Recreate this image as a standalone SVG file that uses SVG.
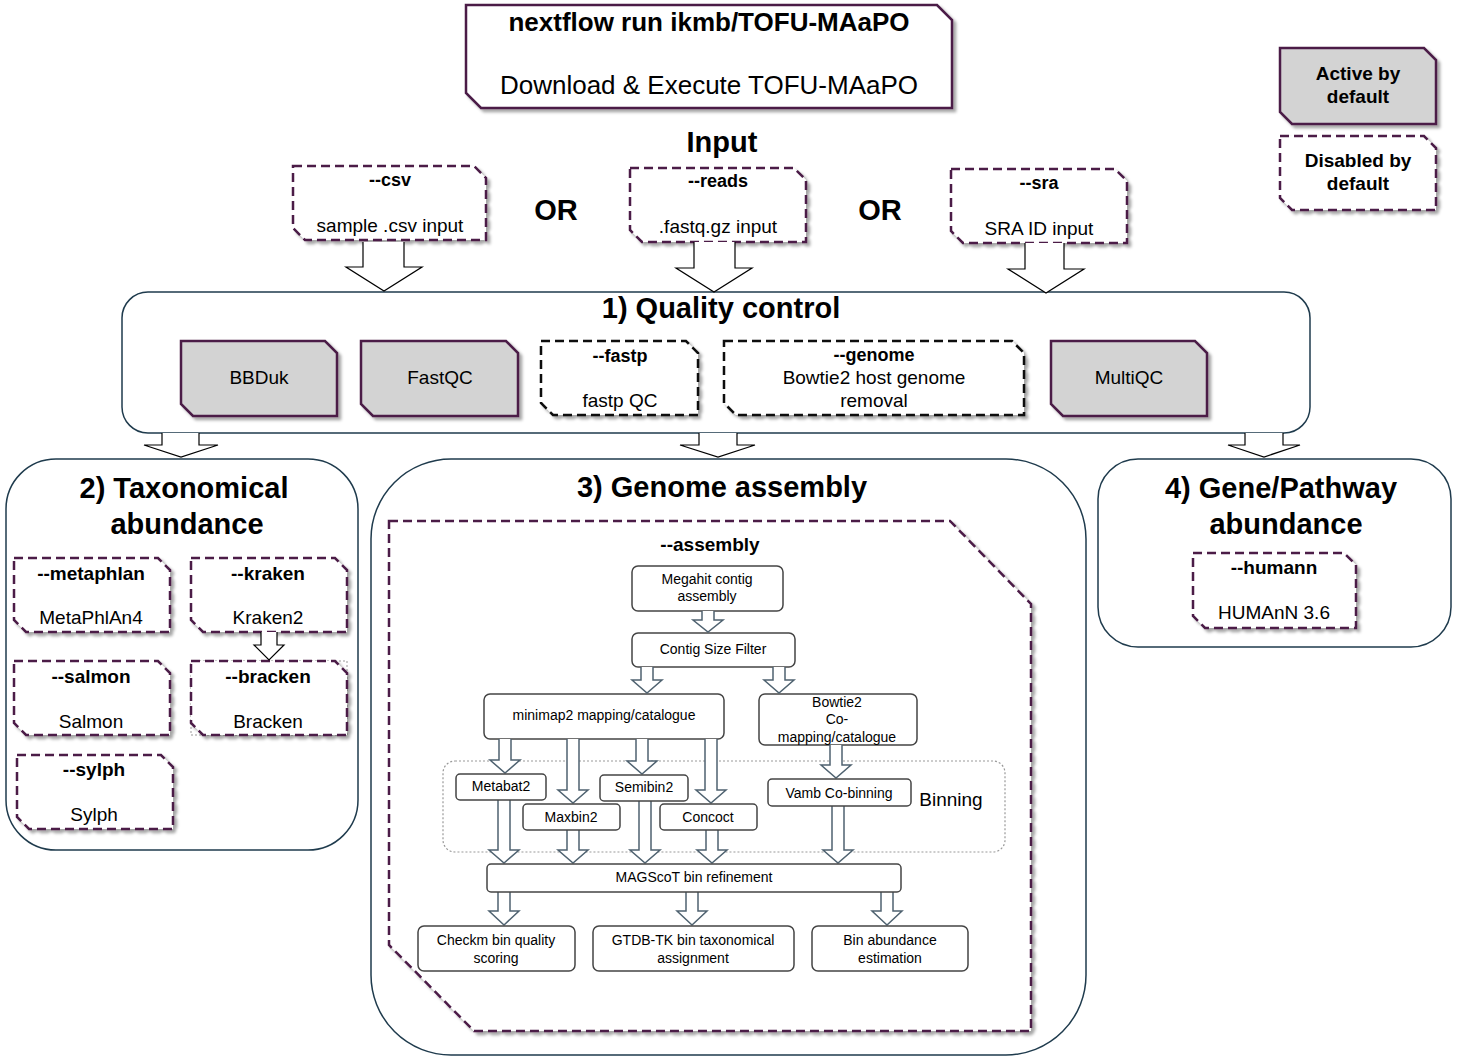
<svg xmlns="http://www.w3.org/2000/svg" width="1457" height="1061" viewBox="0 0 1457 1061">
<defs>
<filter id="sh" x="-10%" y="-10%" width="130%" height="130%">
<feDropShadow dx="3" dy="3" stdDeviation="1.5" flood-color="#000" flood-opacity="0.35"/>
</filter>
</defs>
<style>
text{font-family:"Liberation Sans",Arial,sans-serif;fill:#000;text-anchor:middle}
.b{font-weight:bold}
.act{fill:#d3d3d3;stroke:#4B1B47;stroke-width:2.5}
.dis{fill:#fff;stroke:#4B1B47;stroke-width:2.5;stroke-dasharray:9,5}
.disk{fill:#fff;stroke:#111;stroke-width:2.5;stroke-dasharray:9,5}
.cont{fill:#fff;stroke:#1F3B4D;stroke-width:1.5}
.nd{fill:#fff;stroke:#444;stroke-width:1.5}
.bar{fill:#fff;stroke:#000;stroke-width:1.2}
.sar{fill:#fff;stroke:#4F6270;stroke-width:1.5}
.t19{font-size:19px}
.t14{font-size:14px}
</style>
<rect width="1457" height="1061" fill="#fff"/>

<g id="title">
<path class="act" style="fill:#fff" filter="url(#sh)" d="M466,5 H937 L952,20 V108 H481 L466,93 Z"/>
<text class="b" x="709" y="31" font-size="26">nextflow run ikmb/TOFU-MAaPO</text>
<text x="709" y="94" font-size="26">Download &amp; Execute TOFU-MAaPO</text>
</g>

<g id="legend-active">
<path class="act" filter="url(#sh)" d="M1280,48 H1424 L1436,60 V124 H1292 L1280,112 Z"/>
<text class="b t19" x="1358" y="80">Active by</text>
<text class="b t19" x="1358" y="103">default</text>
</g>
<g id="legend-disabled">
<path class="dis" filter="url(#sh)" d="M1280,136 H1424 L1436,148 V210 H1292 L1280,198 Z"/>
<text class="b t19" x="1358" y="167">Disabled by</text>
<text class="b t19" x="1358" y="190">default</text>
</g>

<g id="input-label">
<text class="b" x="722" y="152" font-size="29">Input</text>
<text class="b" x="556" y="220" font-size="29">OR</text>
<text class="b" x="880" y="220" font-size="29">OR</text>
</g>

<g id="csv">
<path class="dis" filter="url(#sh)" d="M293,166 H474 L486,178 V240 H305 L293,228 Z"/>
<text class="b" x="390" y="186" font-size="18">--csv</text>
<text class="t19" x="390" y="232">sample .csv input</text>
</g>
<g id="reads">
<path class="dis" filter="url(#sh)" d="M630,168 H794 L806,180 V242 H642 L630,230 Z"/>
<text class="b" x="718" y="187" font-size="18">--reads</text>
<text class="t19" x="718" y="233">.fastq.gz input</text>
</g>
<g id="sra">
<path class="dis" filter="url(#sh)" d="M951,169 H1115 L1127,181 V243 H963 L951,231 Z"/>
<text class="b" x="1039" y="189" font-size="18">--sra</text>
<text class="t19" x="1039" y="235">SRA ID input</text>
</g>

<g id="qc">
<rect class="cont" x="122" y="292" width="1188" height="141" rx="26"/>
<text class="b" x="721" y="318" font-size="29">1) Quality control</text>
</g>
<g id="bbduk">
<path class="act" filter="url(#sh)" d="M181,341 H325 L337,353 V416 H193 L181,404 Z"/>
<text class="t19" x="259" y="384">BBDuk</text>
</g>
<g id="fastqc">
<path class="act" filter="url(#sh)" d="M361,341 H506 L518,353 V416 H373 L361,404 Z"/>
<text class="t19" x="440" y="384">FastQC</text>
</g>
<g id="fastp">
<path class="disk" filter="url(#sh)" d="M541,341 H686 L698,353 V415 H553 L541,403 Z"/>
<text class="b" x="620" y="362" font-size="18">--fastp</text>
<text class="t19" x="620" y="407">fastp QC</text>
</g>
<g id="genome">
<path class="disk" filter="url(#sh)" d="M724,341 H1012 L1024,353 V415 H736 L724,403 Z"/>
<text class="b" x="874" y="361" font-size="18">--genome</text>
<text class="t19" x="874" y="384">Bowtie2 host genome</text>
<text class="t19" x="874" y="407">removal</text>
</g>
<g id="multiqc">
<path class="act" filter="url(#sh)" d="M1051,341 H1195 L1207,353 V416 H1063 L1051,404 Z"/>
<text class="t19" x="1129" y="384">MultiQC</text>
</g>

<g id="taxonomy">
<rect class="cont" x="6" y="459" width="352" height="391" rx="50"/>
<text class="b" x="184" y="498" font-size="29">2) Taxonomical</text>
<text class="b" x="187" y="534" font-size="29">abundance</text>
</g>
<g id="metaphlan">
<path class="dis" filter="url(#sh)" d="M14,558 H158 L170,570 V632 H26 L14,620 Z"/>
<text class="b t19" x="91" y="580">--metaphlan</text>
<text class="t19" x="91" y="624">MetaPhlAn4</text>
</g>
<g id="kraken">
<path class="dis" filter="url(#sh)" d="M191,558 H335 L347,570 V632 H203 L191,620 Z"/>
<text class="b t19" x="268" y="580">--kraken</text>
<text class="t19" x="268" y="624">Kraken2</text>
</g>
<g id="salmon">
<path class="dis" filter="url(#sh)" d="M14,661 H158 L170,673 V735 H26 L14,723 Z"/>
<text class="b t19" x="91" y="683">--salmon</text>
<text class="t19" x="91" y="728">Salmon</text>
</g>
<g id="bracken">
<rect x="191" y="661" width="156" height="74" fill="none" stroke="#999" stroke-width="1" stroke-dasharray="2,2"/>
<path class="dis" filter="url(#sh)" d="M191,661 H335 L347,673 V735 H203 L191,723 Z"/>
<text class="b t19" x="268" y="683">--bracken</text>
<text class="t19" x="268" y="728">Bracken</text>
</g>
<g id="sylph">
<path class="dis" filter="url(#sh)" d="M17,755 H161 L173,767 V829 H29 L17,817 Z"/>
<text class="b t19" x="94" y="776">--sylph</text>
<text class="t19" x="94" y="821">Sylph</text>
</g>

<g id="assembly-section">
<rect class="cont" x="371" y="459" width="715" height="596" rx="80"/>
<text class="b" x="722" y="497" font-size="29">3) Genome assembly</text>
<path class="dis" filter="url(#sh)" d="M389,521 H950 L1031,604 V1031 H474 L389,945 Z"/>
<text class="b t19" x="710" y="551">--assembly</text>
</g>
<g id="binning">
<rect x="443" y="761" width="562" height="91" rx="12" fill="none" stroke="#999" stroke-width="1.2" stroke-dasharray="2,2"/>
<text class="t19" x="951" y="806">Binning</text>
</g>
<g id="megahit">
<rect class="nd" x="632" y="566" width="151" height="45" rx="6"/>
<text class="t14" x="707" y="584">Megahit contig</text>
<text class="t14" x="707" y="601">assembly</text>
</g>
<g id="contigfilter">
<rect class="nd" x="632" y="633" width="163" height="34" rx="6"/>
<text class="t14" x="713" y="654">Contig Size Filter</text>
</g>
<g id="minimap2">
<rect class="nd" x="484" y="694" width="240" height="45" rx="6"/>
<text class="t14" x="604" y="720">minimap2 mapping/catalogue</text>
</g>
<g id="bowtie2">
<rect class="nd" x="759" y="694" width="158" height="51" rx="6"/>
<text class="t14" x="837" y="707">Bowtie2</text>
<text class="t14" x="837" y="724">Co-</text>
<text class="t14" x="837" y="742">mapping/catalogue</text>
</g>

<g id="connectors">
<path class="bar" d="M363,242 V267 H346 L384,291 L422,267 H404 V242"/>
<path class="bar" d="M694,242 V268 H676 L714,292 L752,268 H735 V242"/>
<path class="bar" d="M1025,243 V269 H1008 L1046,293 L1084,269 H1064 V243"/>
<path class="bar" d="M162,433 V445 H144 L181,457 L218,445 H199 V433"/>
<path class="bar" d="M699,433 V445 H680 L718,457 L755,445 H737 V433"/>
<path class="bar" d="M1245,433 V445 H1228 L1264,457 L1300,445 H1283 V433"/>
<path class="bar" d="M261,632 V645 H254 L269,660 L284,645 H277 V632"/>
<g class="sar">
<path d="M702,611 V620 H693 L708,632 L723,620 H714 V611"/>
<path d="M641,667 V680 H632 L647,693 L662,680 H653 V667"/>
<path d="M773,667 V680 H764 L779,693 L794,680 H785 V667"/>
<path d="M499,739 V760 H490 L505,773 L520,760 H511 V739"/>
<path d="M567,739 V790 H558 L573,803 L588,790 H579 V739"/>
<path d="M636,739 V761 H627 L642,774 L657,761 H648 V739"/>
<path d="M705,739 V790 H696 L711,803 L726,790 H717 V739"/>
<path d="M830,745 V765 H821 L836,778 L851,765 H842 V745"/>
<path d="M498,800 V850 H489 L504,863 L519,850 H510 V800"/>
<path d="M567,830 V850 H558 L573,863 L588,850 H579 V830"/>
<path d="M639,801 V850 H630 L645,863 L660,850 H651 V801"/>
<path d="M706,830 V850 H697 L712,863 L727,850 H718 V830"/>
<path d="M832,806 V850 H823 L838,863 L853,850 H844 V806"/>
<path d="M498,892 V911 H489 L504,925 L519,911 H510 V892"/>
<path d="M686,892 V911 H677 L692,925 L707,911 H698 V892"/>
<path d="M881,892 V911 H872 L887,925 L902,911 H893 V892"/>
</g>
</g>

<g id="metabat2">
<rect class="nd" x="456" y="774" width="90" height="26" rx="4"/>
<text class="t14" x="501" y="791">Metabat2</text>
</g>
<g id="maxbin2">
<rect class="nd" x="523" y="804" width="97" height="26" rx="4"/>
<text class="t14" x="571" y="822">Maxbin2</text>
</g>
<g id="semibin2">
<rect class="nd" x="600" y="775" width="88" height="26" rx="4"/>
<text class="t14" x="644" y="792">Semibin2</text>
</g>
<g id="concoct">
<rect class="nd" x="660" y="804" width="97" height="26" rx="4"/>
<text class="t14" x="708" y="822">Concoct</text>
</g>
<g id="vamb">
<rect class="nd" x="768" y="779" width="143" height="27" rx="4"/>
<text class="t14" x="839" y="798">Vamb Co-binning</text>
</g>
<g id="magscot">
<rect class="nd" x="487" y="864" width="414" height="28" rx="4"/>
<text class="t14" x="694" y="882">MAGScoT bin refinement</text>
</g>
<g id="checkm">
<rect class="nd" x="418" y="926" width="157" height="45" rx="6"/>
<text class="t14" x="496" y="945">Checkm bin quality</text>
<text class="t14" x="496" y="963">scoring</text>
</g>
<g id="gtdbtk">
<rect class="nd" x="593" y="926" width="201" height="45" rx="6"/>
<text class="t14" x="693" y="945">GTDB-TK bin taxonomical</text>
<text class="t14" x="693" y="963">assignment</text>
</g>
<g id="binabundance">
<rect class="nd" x="812" y="926" width="156" height="45" rx="6"/>
<text class="t14" x="890" y="945">Bin abundance</text>
<text class="t14" x="890" y="963">estimation</text>
</g>

<g id="gene-pathway">
<rect class="cont" x="1098" y="459" width="353" height="188" rx="40"/>
<text class="b" x="1281" y="498" font-size="29">4) Gene/Pathway</text>
<text class="b" x="1286" y="534" font-size="29">abundance</text>
</g>
<g id="humann">
<path class="dis" filter="url(#sh)" d="M1193,553 H1344 L1356,565 V628 H1205 L1193,616 Z"/>
<text class="b t19" x="1274" y="574">--humann</text>
<text class="t19" x="1274" y="619">HUMAnN 3.6</text>
</g>
</svg>
